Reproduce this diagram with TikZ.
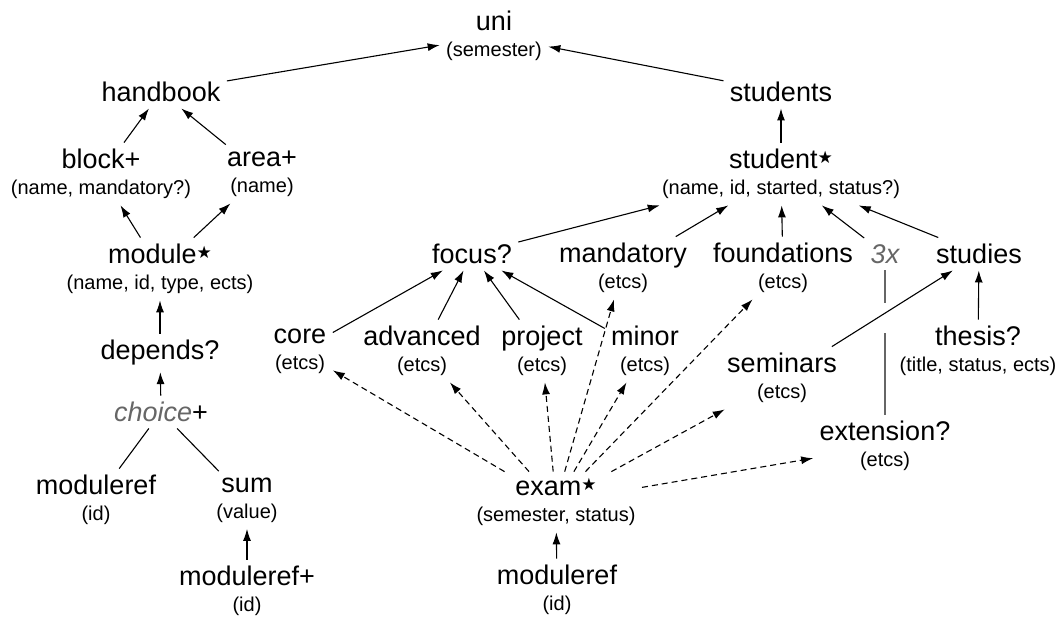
\documentclass[tikz,border=0pt]{standalone}
\usepackage{fontspec}
\setmainfont{Liberation Sans}
\newfontfamily\starfont{DejaVu Sans}
\usetikzlibrary{arrows.meta}
\definecolor{faded}{gray}{0.4}
% small star after repeated elements, attribute line below a name
\newcommand{\rep}{\raisebox{2.6pt}{\starfont\fontsize{8.5}{8.5}\selectfont ★}}
\newcommand{\attr}[1]{\\{\fontsize{10}{12}\selectfont #1}}

\begin{document}
\begin{tikzpicture}[x=0.5pt,y=-0.5pt,>={Latex[length=6pt,width=4pt]},line width=0.55pt,
    every node/.style={inner sep=3pt,align=center,font=\fontsize{13.5}{13}\selectfont},
    ref/.style={->,dash pattern=on 3pt off 2pt}]
\useasboundingbox (0,0) rectangle (1062,617);

            \node (uni) at (494,36) {uni\attr{(semester)}};
            \node (handbook) at (161,92) {handbook};
            \node (students) at (781,92) {students};
            \node (block) at (101,174) {block+\attr{(name, mandatory?)}};
            \node (area) at (262,174) {area+\attr{(name)}};
            \node (student) at (781,174) {student\rep\attr{(name, id, started, status?)}};
            \node (module) at (160,269) {module\rep\attr{(name, id, type, ects)}};
            \node (focus) at (472,254) {focus?};
            \node (mandatory) at (623,268) {mandatory\attr{(etcs)}};
            \node (foundations) at (783,268) {foundations\attr{(etcs)}};
            \node (three) at (885,254) {\textcolor{faded}{\itshape 3x}};
            \node (studies) at (979,254) {studies};
            \node (core) at (300,351) {core\attr{(etcs)}};
            \node (advanced) at (422,351) {advanced\attr{(etcs)}};
            \node (project) at (542,351) {project\attr{(etcs)}};
            \node (minor) at (645,351) {minor\attr{(etcs)}};
            \node (thesis) at (978,351) {thesis?\attr{(title, status, ects)}};
            \node (seminars) at (782,378) {seminars\attr{(etcs)}};
            \node (extension) at (885,446) {extension?\attr{(etcs)}};
            \node (depends) at (160,353) {depends?};
            \node (choice) at (161,412) {\textcolor{faded}{\itshape choice\/}+};
            \node (modref) at (96,500) {moduleref\attr{(id)}};
            \node (sum) at (247,500) {sum\attr{(value)}};
            \node (modrefs) at (247,591) {moduleref+\attr{(id)}};
            \node (exam) at (556,502) {exam\rep\attr{(semester, status)}};
            \node (exammod) at (557,590) {moduleref\attr{(id)}};
            \coordinate (gaptop) at (885,303);
            \coordinate (gapbot) at (885,333);

            % handbook side
            \draw[->] (handbook) to (uni);
            \draw[->] (block) to (handbook);
            \draw[->] (area) to (handbook);
            \draw[->] (module) to (block);
            \draw[->] (module) to (area);
            \draw[->] (depends) to (module);
            \draw[->] (choice) to (depends);
            \draw[-] (choice) to (modref);
            \draw[-] (choice) to (sum);
            \draw[->] (modrefs) to (sum);

            % students side
            \draw[->] (students) to (uni);
            \draw[->] (student) to (students);
            \draw[->] (focus) to (student);
            \draw[->] (mandatory) to (student);
            \draw[->] (foundations) to (student);
            \draw[->] (three) to (student);
            \draw[->] (studies) to (student);
            \draw[->] (core) to (focus);
            \draw[->] (advanced) to (focus);
            \draw[->] (project) to (focus);
            \draw[->] (minor) to (focus);
            \draw[-,faded] (three) to (gaptop);
            \draw[-,faded] (gapbot) to (extension);
            \draw[->] (seminars) to (studies);
            \draw[->] (thesis) to (studies);

            % exams
            \draw[->] (exammod) to (exam);
            \draw[ref] (exam) to (core);
            \draw[ref] (exam) to (advanced);
            \draw[ref] (exam) to (project);
            \draw[ref] (exam) to (mandatory);
            \draw[ref] (exam) to (minor);
            \draw[ref] (exam) to (foundations);
            \draw[ref] (exam) to (seminars);
            \draw[ref] (exam) to (extension);
\end{tikzpicture}
\end{document}
